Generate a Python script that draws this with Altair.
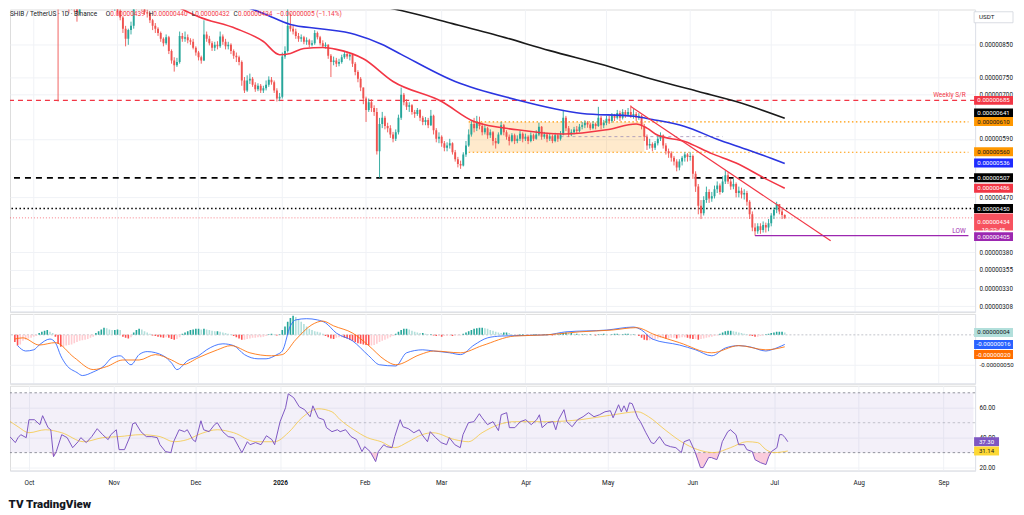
import altair as alt
import numpy as np
import pandas as pd

FONT = "Roboto"
TXT = "#131722"
UP, DN = "#26a69a", "#ef5350"
GRID = "#f0f2f6"
SEP = "#e0e3eb"

BASE = pd.Timestamp("2025-10-01")


def dstr(d):
    return (BASE + pd.Timedelta(days=int(d))).strftime("%Y-%m-%d")


def ms(s):
    return int(pd.Timestamp(s, tz="UTC").value // 10**6)


# ---------------- data (prices in units of 1e-8 USDT) ----------------
FIRST_DAY = -7          # first candle = 2025-09-24
first_open = 1170
closes = [1180, 1150, 1160, 1175, 1190, 1200, 1185, 1230, 1250, 1270, 1265, 1290, 1280, 1250, 1235, 1245,
          1015, 1030, 1045, 1020, 1005, 1010, 990, 965, 1000, 1020,
          1040, 1030, 1050, 1045, 1060, 1040, 1055, 1065, 1050,
          1020, 985, 990, 970, 945, 905, 870, 900, 915, 1000,
          995, 1005, 985, 965, 960, 935, 915, 905, 890, 870,
          855, 875, 830, 800, 785, 795, 880, 870, 875, 865,
          860, 840, 825, 810, 800, 885, 870, 855, 840, 850,
          845, 878, 860, 845, 850, 830, 815, 810, 795, 740,
          712, 740, 745, 728, 715, 725, 712, 718, 728, 742,
          735, 712, 690, 695, 812, 830, 915, 905, 895, 880,
          870, 875, 860, 865, 850, 855, 890, 875, 855, 845,
          850, 815, 795, 800, 790, 795, 810, 820, 812, 818,
          790, 765, 745, 720, 690, 660, 680, 665, 655, 562,
          625, 640, 620, 615, 600, 590, 605, 640, 700, 680,
          668, 672, 655, 650, 660, 640, 630, 635, 622, 645,
          610, 590, 595, 580, 570, 575, 580, 560, 545, 535,
          532, 555, 575, 600, 625, 615, 630, 620, 605, 615,
          598, 605, 585, 580, 600, 622, 605, 595, 585, 598,
          585, 590, 602, 590, 595, 585, 598, 590, 600, 618,
          595, 600, 590, 596, 585, 598, 590, 600, 640, 615,
          600, 605, 612, 608, 618, 622, 628, 624, 615, 625,
          620, 640, 622, 628, 638, 632, 645, 640, 652, 640,
          655, 648, 655, 645, 650, 640, 645, 620, 595, 575,
          578, 570, 580, 590, 598, 575, 562, 558, 548, 540,
          528, 540, 548, 555, 550, 552, 515, 490, 455, 442,
          465, 480, 468, 472, 485, 492, 480, 500, 512, 500,
          490, 495, 478, 482, 475, 478, 462, 440, 418, 412,
          420, 414, 422, 418, 425, 438, 448, 458, 445, 439, 434]
highs = [1195, 1185, 1170, 1185, 1200, 1215, 1205, 1240, 1262, 1285, 1280, 1300, 1295, 1285, 1255, 1260,
         1260, 1050, 1065, 1060, 1035, 1030, 1025, 1000, 1010, 1035,
         1050, 1048, 1060, 1058, 1075, 1062, 1065, 1080, 1070,
         1060, 1025, 1010, 1000, 985, 950, 915, 905, 930, 1030,
         1040, 1030, 1015, 995, 975, 965, 940, 925, 910, 895,
         875, 885, 880, 835, 810, 808, 895, 890, 895, 885,
         872, 870, 845, 830, 815, 935, 895, 880, 862, 860,
         862, 895, 885, 870, 860, 855, 835, 825, 815, 800,
         750, 755, 760, 750, 735, 732, 730, 725, 740, 752,
         750, 740, 718, 705, 825, 845, 995, 960, 915, 905,
         890, 885, 880, 875, 870, 865, 900, 895, 880, 865,
         858, 852, 820, 812, 808, 805, 818, 830, 828, 822,
         820, 795, 770, 750, 720, 695, 690, 688, 672, 665,
         640, 655, 645, 628, 622, 606, 612, 648, 720, 705,
         688, 680, 675, 660, 665, 662, 645, 642, 640, 660,
         648, 615, 605, 598, 585, 582, 590, 582, 565, 550,
         542, 560, 585, 612, 632, 640, 645, 643, 628, 622,
         618, 612, 608, 592, 605, 630, 625, 610, 600, 603,
         602, 598, 608, 605, 602, 598, 605, 602, 610, 628,
         620, 606, 604, 603, 600, 604, 602, 608, 660, 645,
         620, 612, 618, 620, 625, 630, 634, 632, 628, 632,
         628, 668, 645, 635, 645, 645, 652, 650, 660, 658,
         662, 660, 665, 672, 662, 655, 652, 648, 625, 600,
         590, 582, 585, 596, 605, 600, 580, 568, 562, 552,
         545, 545, 552, 560, 558, 560, 555, 520, 495, 465,
         472, 490, 485, 480, 492, 500, 496, 510, 522, 518,
         505, 505, 498, 490, 488, 485, 482, 465, 445, 425,
         425, 425, 428, 426, 432, 442, 452, 462, 458, 450, 440]
lows = [1160, 1140, 1140, 1155, 1170, 1185, 1175, 1180, 1225, 1245, 1250, 1260, 1270, 1245, 1225, 1230,
        682, 990, 1000, 995, 960, 975, 965, 930, 955, 990,
        1012, 1020, 1025, 1030, 1038, 1030, 1035, 1048, 1040,
        1005, 975, 970, 955, 935, 890, 845, 850, 885, 905,
        975, 985, 970, 955, 945, 925, 900, 890, 880, 860,
        845, 850, 820, 790, 766, 780, 790, 860, 860, 855,
        850, 835, 815, 800, 790, 798, 860, 848, 830, 830,
        835, 840, 850, 835, 835, 820, 805, 795, 785, 725,
        705, 708, 730, 722, 708, 710, 705, 705, 712, 722,
        728, 705, 682, 683, 690, 805, 825, 895, 885, 870,
        860, 860, 852, 850, 842, 845, 850, 868, 848, 840,
        838, 805, 750, 785, 780, 782, 790, 805, 805, 800,
        780, 755, 735, 710, 675, 630, 655, 655, 645, 555,
        507, 615, 612, 605, 592, 582, 585, 600, 635, 672,
        660, 655, 648, 640, 645, 632, 622, 622, 615, 620,
        600, 582, 580, 572, 562, 562, 568, 555, 540, 528,
        525, 530, 550, 572, 595, 605, 608, 612, 598, 600,
        590, 592, 575, 568, 578, 598, 598, 588, 575, 582,
        578, 580, 585, 582, 585, 578, 582, 585, 588, 596,
        588, 590, 582, 585, 580, 582, 583, 586, 598, 608,
        594, 596, 600, 602, 605, 612, 615, 616, 610, 612,
        612, 618, 612, 615, 622, 625, 628, 632, 636, 632,
        636, 640, 645, 640, 638, 632, 635, 612, 585, 565,
        568, 562, 565, 575, 585, 568, 555, 548, 540, 532,
        520, 522, 532, 540, 540, 542, 505, 480, 440, 432,
        438, 460, 460, 462, 468, 478, 475, 478, 495, 495,
        484, 485, 470, 470, 468, 466, 455, 432, 412, 405,
        408, 408, 410, 410, 412, 420, 432, 442, 440, 432, 432]

# moving averages
ma200_days = [100, 120, 136, 155, 173, 191, 210, 228, 246, 260, 278]
ma200_vals = [1050, 1005, 971, 923, 878, 831, 788, 746, 709, 682, 639]
ma100_days = [60, 75, 85, 95, 106, 119, 129, 136, 156, 178, 203, 222, 229, 241, 253, 265, 278]
ma100_vals = [1060, 998, 960, 920, 905, 885, 851, 819, 737, 688, 651, 644, 636, 619, 589, 564, 536]
ma50_days = [40, 51, 61, 75, 85, 91, 95, 100, 107, 112, 122, 133, 151, 163, 179, 196, 212, 223, 227, 231,
             241, 251, 260, 271, 278]
ma50_vals = [1080, 998, 948, 905, 861, 818, 822, 838, 841, 835, 805, 737, 682, 631, 611, 601, 611, 625, 615, 598,
             584, 557, 537, 505, 487]

# drawings
trend_days = [221, 295]
trend_vals = [669, 397]
zone_days = [161, 226]
zone_lo, zone_hi = 560, 630
zone_mid = 595
zone_mid_days = [195, 255]
weekly_sr = 685
support_black = 507
support_dotted = 450
last_price = 434
low_level = 405
low_start = 267
right_day = 346

# MACD (units of 1e-8)
macd_days = [-6, -3, 0, 2, 6, 8, 10, 12, 16, 18, 22, 26, 29, 32, 36, 39, 42, 48, 51, 53, 57, 61, 64, 70, 74,
             78, 83, 86, 90, 92, 95, 97, 101, 105, 108, 112, 118, 124, 128, 134, 138, 144, 148, 154, 158, 163,
             168, 173, 190, 197, 212, 222, 225, 229, 239, 245, 251, 256, 261, 265, 271, 273, 278]
macd_vals = [-18, -27, -25, -17, -7, -13, -35, -50, -63, -68, -62, -52, -38, -35, -50, -33, -28, -35, -47, -58,
             -43, -35, -25, -15, -18, -33, -40, -40, -33, -27, 15, 25, 27, 25, 20, 3, -10, -35, -50, -52, -30,
             -25, -27, -30, -33, -17, -5, -2, 0, 5, 8, 13, 8, -7, -17, -25, -35, -22, -18, -20, -27, -25, -16]
signal_days = [-7, -4, 2, 8, 15, 22, 27, 33, 39, 45, 51, 55, 61, 68, 73, 80, 88, 92, 97, 103, 107, 111, 118,
               124, 130, 134, 143, 148, 158, 166, 178, 190, 202, 214, 223, 230, 239, 251, 261, 271, 278]
signal_vals = [-7, -5, -17, -13, -38, -58, -53, -42, -42, -33, -42, -50, -38, -25, -18, -30, -35, -33, -8, 17,
               23, 15, 3, -18, -42, -50, -33, -27, -30, -18, -2, 0, 5, 8, 12, 0, -13, -30, -18, -25, -20]
hist_vals = [-12, -18, -16, -10, -8, -6, -5, -3, -2, 3, 5, 7, 8, 5, 3, -3, -15, -20,
             -20, -18, -17, -16, -14, -12, -10, -9, -8, -7, -5, -3,
             3, 6, 9, 12, 11, 9, 8, 8, 9, 8, -3, -5, -6, -4, 4, 8, 10, 9, 6, 4, 2,
             -1, -2, -3, -4, -5, -4, -5, -7, -8, -7, -4,
             2, 4, 6, 8, 9, 10, 10, 9, 10, 9, 8, 7, 6, 6, 5, 4, 3, 2, 1,
             -2, -4, -6, -8, -8, -7, -6, -5, -5, -4, -4, -3, -2, 1, 2, 1, -1, 1,
             8, 14, 22, 28, 32, 30, 26, 22, 18, 14, 10, 8, 6, 5, 4, 2,
             -2, -4, -6, -7, -5, -4, -4, -5, -6, -8, -10, -12, -14, -15, -16, -17, -18, -18, -17,
             -15, -12, -10, -8, -6, -4, -2, 2, 5, 8, 10, 10, 9, 7, 5, 4, 3, 3, 2, 1, 1,
             -1, -2, -2, -3, -2, -2, -1, -2, -1, -1, -1,
             2, 4, 6, 8, 10, 11, 12, 12, 11, 10, 8, 7, 5, 4, 3, 4, 4, 3,
             1, 0, -1, 1, 1, 0, -1, 0, 1, 1, 0, 0, 1, 1, 0, -1, 0, 1,
             2, 3, 4, 3, 3, 2, 2, 1,
             1, 1, 0, 1, 0, -1, 1, 1, 2, 1, 0, 1, 2, 2, 1, 1, 2, 2, 1, 1, 0,
             -2, -5, -8, -9, -9, -8, -7, -6, -5, -5, -6,
             -6, -5, -5, -6, -5, -4, -4, -5, -6, -7, -7, -8, -7, -6, -5, -4, -3, -2, -1,
             2, 4, 6, 7, 7, 6, 5, 4, 3, 2, 1, -1, -2, -3, -3, -2, -1,
             1, 2, 3, 4, 5, 5, 5, 4]

# RSI
rsi_days = [-7, -5, -4, -3, -1, 0, 2, 4, 5, 7, 8, 9, 10, 12, 14, 16, 18, 19, 21, 23, 25, 27, 29, 30, 32, 33,
            35, 37, 38, 39, 41, 43, 45, 47, 48, 50, 52, 53, 55, 57, 58, 60, 61, 63, 64, 66, 68, 69, 71, 73,
            75, 77, 78, 80, 81, 83, 85, 87, 89, 90, 92, 94, 95, 97, 99, 101, 103, 104, 106, 108, 109, 111,
            113, 114, 116, 118, 120, 122, 123, 125, 127, 128, 130, 131, 133, 134, 136, 137, 139, 141, 143,
            144, 146, 147, 149, 151, 153, 154, 156, 158, 159, 161, 163, 165, 166, 168, 170, 172, 173, 175,
            176, 178, 180, 182, 184, 186, 187, 188, 190, 192, 193, 194, 196, 197, 199, 201, 203, 205, 207,
            209, 211, 213, 214, 216, 217, 218, 219, 220, 221, 223, 224, 226, 228, 229, 231, 233, 235, 237,
            239, 240, 242, 244, 246, 247, 249, 250, 252, 253, 254, 256, 257, 259, 260, 262, 263, 265, 266,
            268, 270, 271, 272, 274, 275, 276, 277, 278]
rsi_vals = [40.7, 36.7, 40, 42, 40, 52, 52, 48.7, 54.7, 46.7, 45.3, 27.3, 30.7, 42, 40, 33.3, 37.3, 40, 36.7,
            40.7, 46, 42, 38.7, 42, 45.3, 32, 32, 40.7, 49.3, 50, 44, 40.7, 40.7, 40, 35.3, 30.7, 30, 37.3,
            45.3, 44, 45.3, 38.7, 37.3, 51.3, 45.3, 44, 48.7, 50, 44, 40.7, 40, 33.3, 30, 37.3, 35.3, 36.7,
            35.3, 41.3, 38.7, 35.3, 50.7, 60, 69.3, 66.7, 60.7, 58.7, 54, 61.3, 53.3, 52, 46.7, 44, 45.3,
            44, 45.3, 40.7, 38.7, 30.7, 34, 30.7, 24, 30.7, 35.3, 34, 33.3, 40.7, 52, 47.3, 46, 43.3, 45.3,
            42, 37.3, 44, 40, 36.7, 35.3, 40, 35.3, 33.3, 42, 50, 50.7, 56, 53.3, 48.7, 50.7, 44.7, 55.3,
            56.7, 46.7, 46.7, 50.7, 52, 48.7, 52, 55.3, 46.7, 50, 50.7, 45.3, 52, 58.7, 50.7, 47.3, 52, 54,
            56.7, 54, 55.3, 57.3, 58, 53.3, 62, 57.3, 61.3, 57.3, 63.3, 62.7, 53.3, 50.7, 43.3, 36.7, 36,
            40.7, 35.3, 34, 33.3, 30, 37.3, 38.7, 30.7, 20, 20, 26.7, 26.7, 25.3, 30, 37.3, 44, 45.3, 42,
            35.3, 35.3, 32, 30.7, 25.3, 23.3, 22, 27.3, 30.7, 33.3, 42, 42, 40, 37.3]
rsima_days = [-7, -4, 0, 6, 12, 20, 27, 33, 41, 48, 53, 58, 63, 69, 75, 83, 90, 95, 100, 106, 111, 114, 119,
              124, 129, 134, 139, 144, 148, 156, 161, 166, 172, 178, 190, 202, 214, 223, 227, 233, 239, 245,
              251, 257, 263, 267, 270, 273, 278]
rsima_vals = [51, 47.3, 43.3, 45.3, 43.3, 37.3, 40, 40.7, 42, 40.7, 37.3, 38.7, 42.7, 45.3, 43.3, 37.3, 37.3,
              43.3, 53.3, 59.3, 57.3, 52, 45.3, 40, 37.3, 33.3, 37.3, 42, 43.3, 38.7, 37.3, 43.3, 48.7, 50.7,
              50.7, 52, 55.3, 57.3, 54, 45.3, 37.3, 32, 30, 33.3, 37.3, 36.7, 32, 30, 31.1]

# axis tick values
PRICE_TICKS = [850, 750, 700, 590, 470, 380, 355, 330, 308]
MONTHS = [ms(s) for s in ["2025-10-01", "2025-11-01", "2025-12-01", "2026-01-01", "2026-02-01", "2026-03-01",
                          "2026-04-01", "2026-05-01", "2026-06-01", "2026-07-01", "2026-08-01", "2026-09-01"]]

# price tags on the right axis
ptag_pos = [685, 652, 631, 561, 537, 507, 487, 450, 403.5]
ptag_txt = ["0.00000685", "0.00000641", "0.00000610", "0.00000560", "0.00000536", "0.00000507",
            "0.00000486", "0.00000450", "0.00000405"]
ptag_bg = ["#f23645", "#000000", "#ff9800", "#ff9800", "#1f2bff", "#000000", "#f23645", "#000000", "#9c27b0"]
ptag_fg = ["#ffffff", "#ffffff", "#131722", "#131722", "#ffffff", "#ffffff", "#ffffff", "#ffffff", "#ffffff"]
mtag_pos = [4, -16, -33]
mtag_txt = ["0.00000004", "-0.00000016", "-0.00000020"]
mtag_bg = ["#b2dfdb", "#2962ff", "#ff6d00"]
mtag_fg = ["#131722", "#ffffff", "#ffffff"]
rtag_pos = [37.3, 31.1]
rtag_txt = ["37.30", "31.14"]
rtag_bg = ["#7e57c2", "#fdd835"]
rtag_fg = ["#ffffff", "#131722"]

# ---------------- layout ----------------
W, H_P, H_M, H_R = 967, 303, 70, 85
P_DOM = [301.2, 975]
M_DOM = [-81.7, 35]
R_DOM = [18, 74.7]
X_DOMAIN = [ms("2025-09-24 01:12"), ms("2026-09-12 14:38")]
xs = alt.Scale(type="utc", domain=X_DOMAIN)
XLAB = "utcFormat(datum.value, '%m') == '01' ? utcFormat(datum.value, '%Y') : utcFormat(datum.value, '%b')"
TAG_X, TAG_W = 985.5, 39

x_axis_bottom = alt.Axis(values=MONTHS, title=None, grid=True, gridColor=GRID, domain=True, domainColor=SEP,
                         ticks=False, labelExpr=XLAB, labelFont=FONT, labelFontSize=6.5, labelColor=TXT,
                         labelPadding=9, zindex=0,
                         labelFontWeight={"condition": {"test": "utcFormat(datum.value, '%m') == '01'",
                                                        "value": "bold"}, "value": "normal"})


def yaxis(values, expr, size=6.3):
    return alt.Axis(orient="right", title=None, values=values, labelExpr=expr, grid=True, gridColor=GRID,
                    domainColor=SEP, ticks=False, labelPadding=4, labelFont=FONT, labelFontSize=size,
                    labelColor=TXT, labelOverlap=False, zindex=0)


ps = alt.Scale(type="log", domain=P_DOM, nice=False, zero=False)
pax = yaxis(PRICE_TICKS, "format(datum.value / 1e8, '.8f')")
msc = alt.Scale(domain=M_DOM, nice=False, zero=False)
max_ = yaxis([-50], "replace(format(datum.value / 1e8, '.8f'), '\u2212', '-')", size=6.1)
rsc = alt.Scale(domain=R_DOM, nice=False, zero=False)
rax = yaxis([60, 40, 20], "format(datum.value, '.2f')")


def mk_x(axis):
    def f(field="date"):
        return alt.X(f"{field}:T", scale=xs, axis=axis)
    return f


def mk_y(scale, axis):
    def f(field):
        return alt.Y(f"{field}:Q", scale=scale, axis=axis)
    return f


PX, PY = mk_x(None), mk_y(ps, pax)
MX, MY = mk_x(None), mk_y(msc, max_)
RX, RY = mk_x(x_axis_bottom), mk_y(rsc, rax)


def vgrid(X):
    return alt.Chart(pd.DataFrame({"m": MONTHS})).mark_rule(color=GRID, strokeWidth=1).encode(x=X("m"))


def bottom_sep(Y, v):
    return alt.Chart(pd.DataFrame({"v": [v]})).mark_rule(color=SEP, strokeWidth=1).encode(y=Y("v"))


def box_path(w, h):
    hh = round(h / w, 4)
    return f"M-1,-{hh}L1,-{hh}L1,{hh}L-1,{hh}Z"


def tags(pos, txt, bg, fg, yfn, cx, w, h=9.0):
    df = pd.DataFrame({"pos": pos, "txt": txt, "bg": bg, "fg": fg})
    b = alt.Chart(df).mark_point(shape=box_path(w, h), filled=True, opacity=1, size=w * w,
                                 strokeWidth=0).encode(
        x=alt.value(cx), y=yfn("pos"), color=alt.Color("bg:N", scale=None))
    t = alt.Chart(df).mark_text(font=FONT, fontSize=6.1, lineBreak="\n").encode(
        x=alt.value(cx), y=yfn("pos"), text="txt:N", color=alt.Color("fg:N", scale=None))
    return [b, t]


def label(text, x, y, color, size=6.5, weight="normal"):
    return alt.Chart(pd.DataFrame({"t": [text]})).mark_text(
        align="left", baseline="alphabetic", font=FONT, fontSize=size, color=color, fontWeight=weight).encode(
        x=alt.value(x), y=alt.value(y), text="t:N")


def line_df(days, vals):
    return pd.DataFrame({"date": [dstr(d) for d in days], "v": vals})


# ---------------- price panel ----------------
n = len(closes)
opens = [first_open] + closes[:-1]
cdf = pd.DataFrame({"date": [dstr(FIRST_DAY + i) for i in range(n)], "o": opens, "h": highs, "l": lows,
                    "c": closes})
cdf["lo"] = cdf[["o", "c"]].min(axis=1)
cdf["hi"] = cdf[["o", "c"]].max(axis=1)
cdf["h"] = cdf[["h", "hi"]].max(axis=1)
cdf["l"] = cdf[["l", "lo"]].min(axis=1)
cdf["col"] = np.where(cdf["c"] >= cdf["o"], UP, DN)

zone = alt.Chart(pd.DataFrame({"a": [dstr(zone_days[0])], "b": [dstr(zone_days[1])], "lo": [zone_lo],
                               "hi": [zone_hi]})).mark_rect(color="#ff9800", opacity=0.2).encode(
    x=PX("a"), x2=alt.X2("b"), y=PY("lo"), y2=alt.Y2("hi"))
zone_lines = alt.Chart(pd.DataFrame({"a": [dstr(zone_days[0])] * 2, "b": [dstr(right_day)] * 2,
                                     "v": [zone_lo, zone_hi]})).mark_rule(
    color="#ff9800", strokeDash=[1.5, 2.5], strokeWidth=1.2).encode(x=PX("a"), x2=alt.X2("b"), y=PY("v"))
mid_line = alt.Chart(pd.DataFrame({"a": [dstr(zone_mid_days[0])], "b": [dstr(zone_mid_days[1])],
                                   "v": [zone_mid]})).mark_rule(
    color="#9e8fb8", strokeDash=[3, 3], strokeWidth=0.8).encode(x=PX("a"), x2=alt.X2("b"), y=PY("v"))


def hline(v, **kw):
    return alt.Chart(pd.DataFrame({"v": [v]})).mark_rule(**kw).encode(y=PY("v"))


l_sr = hline(weekly_sr, color="#f23645", strokeDash=[5, 4], strokeWidth=1.3)
l_blk = hline(support_black, color="#000000", strokeDash=[6, 5], strokeWidth=1.8)
l_dot = hline(support_dotted, color="#000000", strokeDash=[1.5, 2.5], strokeWidth=1.4)
l_last = hline(last_price, color="#f23645", strokeDash=[1, 2], strokeWidth=0.8, opacity=0.8)
low_line = alt.Chart(pd.DataFrame({"a": [dstr(low_start)], "b": [dstr(right_day)], "v": [low_level]})).mark_rule(
    color="#9c27b0", strokeWidth=1.2).encode(x=PX("a"), x2=alt.X2("b"), y=PY("v"))

wicks = alt.Chart(cdf).mark_rule(strokeWidth=0.9, clip=True).encode(
    x=PX(), y=PY("l"), y2=alt.Y2("h"), color=alt.Color("col:N", scale=None))
bodies = alt.Chart(cdf).mark_bar(size=1.9, clip=True).encode(
    x=PX(), y=PY("lo"), y2=alt.Y2("hi"), color=alt.Color("col:N", scale=None))


def ma(days, vals, color):
    return alt.Chart(line_df(days, vals)).mark_line(color=color, strokeWidth=1.6, interpolate="monotone",
                                                    clip=True).encode(x=PX(), y=PY("v"))


ma200 = ma(ma200_days, ma200_vals, "#1a1a1a")
ma100 = ma(ma100_days, ma100_vals, "#2b35e0")
ma50 = ma(ma50_days, ma50_vals, "#f23645")
trend = alt.Chart(line_df(trend_days, trend_vals)).mark_line(color="#f23645", strokeWidth=1.2, clip=True).encode(
    x=PX(), y=PY("v"))

ann = alt.Chart(pd.DataFrame({"date": [dstr(345), dstr(345)], "v": [weekly_sr, low_level],
                              "t": ["Weekly S/R", "LOW"], "c": ["#f23645", "#9c27b0"]})).mark_text(
    align="right", baseline="bottom", dy=-2, font=FONT, fontSize=6.5).encode(
    x=PX(), y=PY("v"), text="t:N", color=alt.Color("c:N", scale=None))

HY = 7
header = [
    label("SHIB / TetherUS · 1D · Binance", 0, HY, TXT),
    label("O", 96, HY, TXT), label("0.00000439", 100.5, HY, "#f23645"),
    label("H", 139, HY, TXT), label("0.00000440", 143.5, HY, "#f23645"),
    label("L", 182, HY, TXT), label("0.00000432", 185.5, HY, "#f23645"),
    label("C", 224, HY, TXT), label("0.00000434", 228.5, HY, "#f23645"),
    label("−0.00000005 (−1.14%)", 267, HY, "#f23645"),
]

usdt_df = pd.DataFrame({"pos": [946], "t": ["USDT"]})
usdt_box = alt.Chart(usdt_df).mark_point(shape=box_path(TAG_W, 11), filled=True, fill="#ffffff",
                                         stroke="#d1d4dc", strokeWidth=0.8, opacity=1,
                                         size=TAG_W * TAG_W).encode(x=alt.value(TAG_X), y=PY("pos"))
usdt_txt = alt.Chart(usdt_df).mark_text(align="left", font=FONT, fontSize=6.2, color=TXT).encode(
    x=alt.value(971), y=PY("pos"), text="t:N")

ptags = tags(ptag_pos, ptag_txt, ptag_bg, ptag_fg, PY, TAG_X, TAG_W)
cur_tag = tags([427], ["0.00000434\n19:22:48"], ["#f7525f"], ["#ffffff"], PY, TAG_X, TAG_W, h=17)

price = alt.layer(vgrid(PX), bottom_sep(PY, P_DOM[0]), zone, zone_lines, mid_line, l_sr, l_blk, l_dot, l_last,
                  wicks, bodies, ma200, ma100, ma50, trend, low_line, ann, *header, usdt_box, usdt_txt,
                  *ptags, *cur_tag).properties(width=W, height=H_P)

# ---------------- MACD panel ----------------
hdf = pd.DataFrame({"date": [dstr(FIRST_DAY + i) for i in range(len(hist_vals))], "h": hist_vals})
hdf["zero"] = 0
prev = hdf["h"].shift(1).fillna(0)
hdf["col"] = np.where(hdf["h"] >= 0, np.where(hdf["h"] >= prev, "#26a69a", "#b2dfdb"),
                      np.where(hdf["h"] < prev, "#ff5252", "#ffcdd2"))
zero_line = alt.Chart(pd.DataFrame({"v": [0]})).mark_rule(color="#b2b5be", strokeDash=[2, 2],
                                                           strokeWidth=0.8).encode(y=MY("v"))
hist = alt.Chart(hdf).mark_bar(size=1.6, clip=True).encode(x=MX(), y=MY("h"), y2=alt.Y2("zero"),
                                                            color=alt.Color("col:N", scale=None))
macd_line = alt.Chart(line_df(macd_days, macd_vals)).mark_line(
    color="#2962ff", strokeWidth=1, interpolate="monotone", opacity=0.85, clip=True).encode(x=MX(), y=MY("v"))
sig_line = alt.Chart(line_df(signal_days, signal_vals)).mark_line(
    color="#ff6d00", strokeWidth=1, interpolate="monotone", opacity=0.85, clip=True).encode(x=MX(), y=MY("v"))
mtags = tags(mtag_pos, mtag_txt, mtag_bg, mtag_fg, MY, TAG_X, TAG_W)
macd = alt.layer(vgrid(MX), bottom_sep(MY, M_DOM[0]), zero_line, hist, macd_line, sig_line,
                 *mtags).properties(width=W, height=H_M)

# ---------------- RSI panel ----------------
band = alt.Chart(pd.DataFrame({"a": [dstr(FIRST_DAY)], "b": [dstr(right_day)], "lo": [30], "hi": [70]})).mark_rect(
    color="#7e57c2", opacity=0.09, clip=True).encode(x=RX("a"), x2=alt.X2("b"), y=RY("lo"), y2=alt.Y2("hi"))
r70 = alt.Chart(pd.DataFrame({"v": [70, 30]})).mark_rule(color="#787b86", strokeDash=[2.5, 2.5],
                                                          strokeWidth=0.8).encode(y=RY("v"))
r50 = alt.Chart(pd.DataFrame({"v": [50]})).mark_rule(color="#787b86", strokeDash=[2.5, 2.5], strokeWidth=0.8,
                                                      opacity=0.5).encode(y=RY("v"))
rdf = line_df(rsi_days, rsi_vals)
over = alt.Chart(rdf).transform_calculate(lo="min(datum.v, 30)", th="30").mark_area(
    color="#f48fb1", opacity=0.45, clip=True).encode(x=RX(), y=RY("lo"), y2=alt.Y2("th"))
rsi_ma = alt.Chart(line_df(rsima_days, rsima_vals)).mark_line(
    color="#f5c842", strokeWidth=1, interpolate="monotone", opacity=0.8, clip=True).encode(x=RX(), y=RY("v"))
rsi_line = alt.Chart(rdf).mark_line(color="#7e57c2", strokeWidth=1, clip=True).encode(x=RX(), y=RY("v"))
rtags = tags(rtag_pos, rtag_txt, rtag_bg, rtag_fg, RY, 978.5, 25)
rsi = alt.layer(band, r70, r50, over, rsi_ma, rsi_line, *rtags).properties(width=W, height=H_R)

chart = alt.vconcat(price, macd, rsi, spacing=0).resolve_scale(x="independent", y="independent").properties(
    padding=0,
    title=alt.TitleParams("TV TradingView", orient="bottom", anchor="start", font=FONT, fontSize=11.5,
                          fontWeight=900, color=TXT, offset=12),
).configure_view(stroke=None).configure(background="white")

chart.save("out.html", embed_options={"renderer": "svg", "actions": False})
